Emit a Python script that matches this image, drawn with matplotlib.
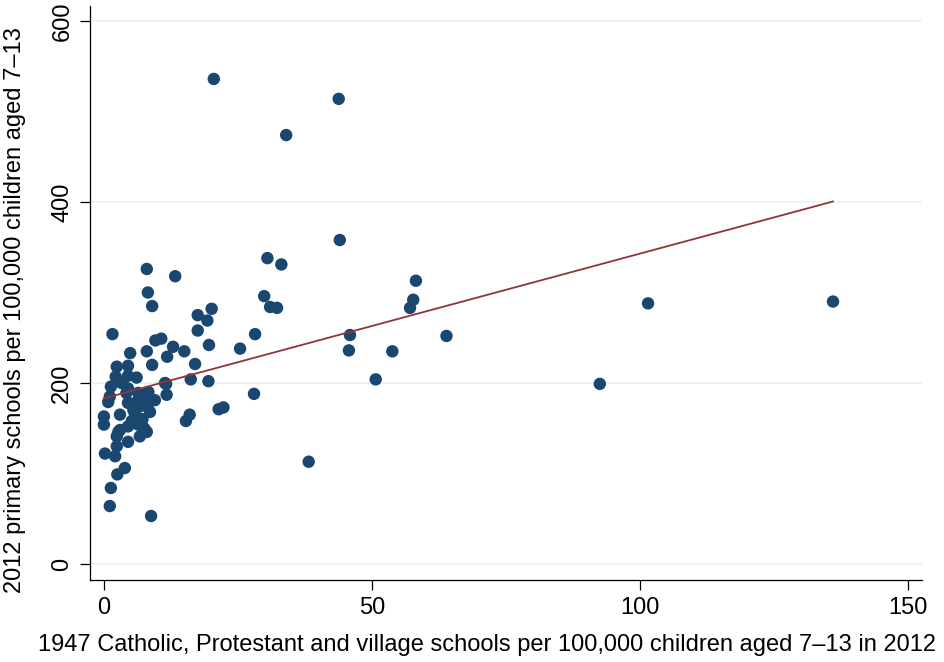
import matplotlib
matplotlib.use('Agg')
import matplotlib.pyplot as plt
import numpy as np

# 1947 schools per 100,000 children (x) vs 2012 primary schools (y)
x_1947 = [20.5, 43.8, 34.0, 44.0, 30.5, 33.1, 58.2, 57.7, 57.1, 29.9, 31.0, 32.3,
          28.2, 45.9, 45.7, 63.9, 53.8, 50.7, 28.0, 25.4, 38.2, 92.5, 101.5, 136.0,
          13.3, 20.1, 17.5, 19.3, 17.5, 10.7, 9.6, 12.9, 15.0, 19.6, 11.8, 17.0,
          9.0, 16.2, 19.5, 11.6, 11.7, 21.4, 22.3, 16.0, 15.3,
          8.0, 8.2, 9.0, 1.6, 4.9, 8.0, 2.4, 4.5, 2.2, 4.5, 6.1, 1.3, 3.3, 4.5,
          11.4, 1.1, 4.2, 6.4, 8.3, 9.5, 5.8, 8.3, 0.8, 4.5, 0.0, 3.0, 5.8, 8.6,
          0.0, 2.7, 4.5, 6.4, 8.0, 2.4, 4.5, 6.7, 2.4, 0.2, 2.1, 3.9, 2.5, 1.3,
          1.1, 8.8, 7.5, 7.2, 5.2, 3.0, 6.7, 7.0, 5.5]
y_2012 = [536, 514, 474, 358, 338, 331, 313, 292, 283, 296, 284, 283,
          254, 253, 236, 252, 235, 204, 188, 238, 113, 199, 288, 290,
          318, 282, 275, 269, 258, 249, 247, 240, 235, 242, 229, 221,
          220, 204, 202, 199, 187, 171, 173, 165, 158,
          326, 300, 285, 254, 233, 235, 218, 219, 207, 208, 206, 196, 200, 194,
          200, 185, 189, 189, 190, 181, 178, 178, 179, 178, 163, 165, 165, 168,
          154, 146, 152, 154, 146, 141, 135, 141, 130, 122, 119, 106, 99, 84,
          64, 53, 150, 160, 158, 148, 174, 185, 170]

# fitted line
fit_intercept = 183
fit_slope = 1.6

x_ticks = [0, 50, 100, 150]
y_ticks = [0, 200, 400, 600]

navy = '#1A476F'
maroon = '#90353B'

plt.rcParams['font.family'] = ['Liberation Sans', 'DejaVu Sans']
tick_font = ['Liberation Sans Narrow', 'Liberation Sans', 'DejaVu Sans']

fig = plt.figure(figsize=(9.44, 6.62), dpi=100)
ax = fig.add_axes([0.0953, 0.1239, 0.8814, 0.867])

for yt in y_ticks:
    ax.axhline(yt, color='#EAF2F3', linewidth=1.2, zorder=0)

ax.scatter(x_1947, y_2012, s=80, color=navy, edgecolors='none', zorder=2)

xf = np.array([min(x_1947), max(x_1947)])
ax.plot(xf, fit_intercept + fit_slope * xf, color=maroon, linewidth=1.3, zorder=3)

ax.set_xlim(-2.6, 152.6)
ax.set_ylim(-17.7, 616.6)
ax.set_xticks(x_ticks)
ax.set_xticklabels([str(v) for v in x_ticks], family=tick_font, fontsize=17)
ax.set_yticks(y_ticks)
ax.set_yticklabels([str(v) for v in y_ticks], rotation=90, va='center',
                   family=tick_font, fontsize=17)
ax.tick_params(direction='out', length=7, width=0.9, pad=5)

for side in ['top', 'right']:
    ax.spines[side].set_visible(False)
for side in ['left', 'bottom']:
    ax.spines[side].set_linewidth(0.9)

ax.set_xlabel('1947 Catholic, Protestant and village schools per 100,000 children aged 7\u201313 in 2012',
              fontsize=17)
ax.xaxis.set_label_coords(0.477, -0.113)
ax.xaxis.label.set_va('center')
ax.set_ylabel('2012 primary schools per 100,000 children aged 7\u201313', fontsize=17)
ax.yaxis.set_label_coords(-0.090, 0.470)
ax.yaxis.label.set_va('center')

fig.savefig('out.png', dpi=100)
